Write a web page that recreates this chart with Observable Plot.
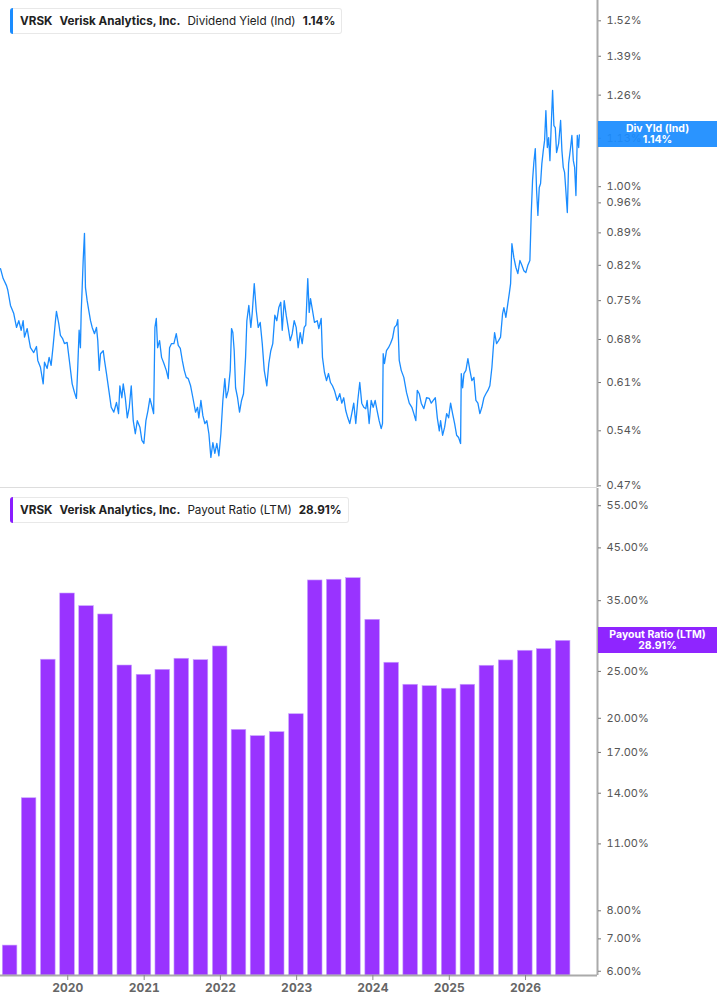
<!DOCTYPE html>
<html><head><meta charset="utf-8">
<script src="https://cdn.jsdelivr.net/npm/d3@7"></script>
<script src="https://cdn.jsdelivr.net/npm/@observablehq/plot@0.6"></script>
<style>
body{margin:0;background:#fff;font-family:Inter,"Noto Sans",sans-serif;}
#wrap{position:relative;width:717px;height:1005px;overflow:hidden}
#wrap svg{display:block;overflow:visible}
#wrap svg:first-of-type{position:relative;z-index:2}
.legend{position:absolute;z-index:3;left:10px;height:24px;border:1px solid #e8e8e8;border-left:none;border-radius:3px;background:#fff;font-size:11.7px;line-height:24px;color:#222;padding:0 6px 0 10px;white-space:nowrap}
.legend::before{content:"";position:absolute;left:0;top:-1px;bottom:-1px;width:3px;border-radius:3px 0 0 3px;background:var(--c)}
.legend span{margin-right:7px}
.legend span:last-child{margin-right:0}
.legend .b{font-weight:700}
.tag{position:absolute;z-index:4;left:598px;width:119px;height:26px;color:#fff;font-weight:700;font-size:10.5px;line-height:11.5px;text-align:center;display:flex;flex-direction:column;justify-content:center}
</style></head>
<body>
<div id="wrap"></div>
<script>
// ---- data ----
const yieldTime = [2019.118,2019.153,2019.197,2019.214,2019.249,2019.292,2019.328,2019.358,2019.389,2019.415,2019.433,2019.468,2019.489,2019.511,2019.554,2019.590,2019.607,2019.642,2019.678,2019.695,2019.730,2019.756,2019.782,2019.809,2019.839,2019.852,2019.882,2019.904,2019.931,2019.957,2019.992,2020.026,2020.058,2020.088,2020.114,2020.131,2020.149,2020.166,2020.176,2020.189,2020.202,2020.219,2020.232,2020.254,2020.275,2020.298,2020.320,2020.350,2020.376,2020.393,2020.412,2020.429,2020.464,2020.481,2020.507,2020.538,2020.569,2020.603,2020.638,2020.665,2020.682,2020.708,2020.726,2020.753,2020.779,2020.805,2020.831,2020.857,2020.884,2020.910,2020.944,2020.970,2020.996,2021.023,2021.049,2021.075,2021.098,2021.124,2021.141,2021.159,2021.176,2021.202,2021.228,2021.259,2021.290,2021.316,2021.333,2021.359,2021.390,2021.421,2021.447,2021.474,2021.500,2021.526,2021.552,2021.578,2021.609,2021.639,2021.674,2021.700,2021.717,2021.744,2021.770,2021.796,2021.822,2021.849,2021.875,2021.901,2021.927,2021.953,2021.980,2022.006,2022.032,2022.058,2022.077,2022.103,2022.129,2022.146,2022.163,2022.181,2022.199,2022.225,2022.251,2022.277,2022.303,2022.330,2022.347,2022.373,2022.399,2022.417,2022.444,2022.470,2022.496,2022.522,2022.549,2022.575,2022.609,2022.635,2022.661,2022.687,2022.714,2022.740,2022.766,2022.792,2022.811,2022.837,2022.863,2022.889,2022.916,2022.942,2022.968,2022.994,2023.020,2023.047,2023.073,2023.099,2023.120,2023.146,2023.165,2023.182,2023.208,2023.234,2023.270,2023.291,2023.322,2023.339,2023.365,2023.392,2023.418,2023.444,2023.470,2023.496,2023.532,2023.566,2023.592,2023.618,2023.645,2023.671,2023.697,2023.723,2023.749,2023.776,2023.802,2023.828,2023.854,2023.881,2023.907,2023.925,2023.951,2023.978,2024.004,2024.030,2024.056,2024.082,2024.109,2024.126,2024.135,2024.152,2024.178,2024.204,2024.231,2024.257,2024.283,2024.309,2024.326,2024.345,2024.371,2024.405,2024.440,2024.476,2024.510,2024.536,2024.562,2024.581,2024.607,2024.633,2024.667,2024.702,2024.738,2024.764,2024.790,2024.817,2024.843,2024.869,2024.886,2024.912,2024.939,2024.965,2024.991,2025.017,2025.043,2025.070,2025.096,2025.122,2025.148,2025.157,2025.175,2025.192,2025.218,2025.244,2025.270,2025.296,2025.323,2025.349,2025.375,2025.401,2025.427,2025.454,2025.480,2025.506,2025.532,2025.559,2025.577,2025.594,2025.620,2025.646,2025.672,2025.699,2025.716,2025.742,2025.768,2025.787,2025.804,2025.821,2025.847,2025.873,2025.899,2025.926,2025.952,2025.978,2026.004,2026.030,2026.057,2026.075,2026.092,2026.109,2026.128,2026.145,2026.162,2026.180,2026.197,2026.214,2026.233,2026.250,2026.267,2026.286,2026.303,2026.320,2026.338,2026.355,2026.372,2026.390,2026.407,2026.434,2026.460,2026.477,2026.495,2026.512,2026.529,2026.548,2026.565,2026.591,2026.608,2026.627,2026.644,2026.661,2026.679,2026.697,2026.706];
const yieldValue = [0.813,0.793,0.779,0.770,0.741,0.726,0.701,0.713,0.696,0.713,0.684,0.699,0.682,0.666,0.658,0.668,0.645,0.634,0.608,0.642,0.632,0.650,0.637,0.670,0.713,0.730,0.708,0.687,0.682,0.673,0.675,0.640,0.608,0.595,0.586,0.634,0.696,0.666,0.728,0.775,0.830,0.889,0.775,0.750,0.732,0.713,0.701,0.690,0.701,0.678,0.629,0.656,0.661,0.645,0.624,0.598,0.573,0.566,0.580,0.564,0.605,0.587,0.608,0.587,0.558,0.573,0.605,0.554,0.536,0.554,0.545,0.527,0.523,0.554,0.568,0.586,
0.576,0.564,0.701,0.717,0.666,0.678,0.650,0.640,0.629,0.616,0.666,0.673,0.673,0.690,0.670,0.665,0.645,0.629,0.618,0.616,0.605,0.587,0.566,0.573,0.558,0.583,0.561,0.550,0.554,0.536,0.505,0.524,0.510,0.523,0.507,0.536,0.583,0.616,0.587,0.598,0.629,0.699,0.692,0.661,0.602,0.587,0.566,0.583,0.593,0.650,0.713,0.741,0.701,0.726,0.783,0.732,0.701,0.710,0.673,0.629,0.605,0.640,0.661,0.673,0.723,0.713,0.737,0.747,0.696,0.750,0.723,0.701,0.678,0.690,0.713,0.701,0.666,0.692,0.673,0.701,
0.705,0.793,0.728,0.754,0.732,0.710,0.713,0.699,0.717,0.650,0.626,0.613,0.624,0.610,0.605,0.598,0.583,0.593,0.579,0.587,0.568,0.558,0.550,0.564,0.579,0.550,0.583,0.610,0.579,0.573,0.571,0.583,0.550,0.583,0.573,0.583,0.568,0.554,0.543,0.550,0.656,0.640,0.661,0.666,0.673,0.682,0.701,0.705,0.715,0.645,0.629,0.618,0.595,0.579,0.573,0.564,0.554,0.598,0.593,0.579,0.571,0.587,0.586,0.579,0.583,0.587,0.558,0.540,0.554,0.534,0.545,0.564,0.558,0.579,0.564,0.550,0.534,0.531,0.523,0.624,0.602,0.624,0.629,0.648,0.629,0.613,0.618,0.583,0.579,0.564,0.573,0.587,0.593,0.598,0.605,0.634,0.666,0.692,0.673,0.678,
0.684,0.726,0.737,0.719,0.745,0.764,0.783,0.866,0.836,0.816,0.803,0.830,0.820,0.809,0.805,0.820,0.830,0.935,1.016,1.063,1.101,0.990,0.930,0.998,1.008,1.060,1.096,1.124,1.212,1.104,1.132,1.068,1.173,1.275,1.167,1.161,1.090,1.115,1.182,1.096,1.050,1.037,0.990,0.937,1.060,1.104,1.138,1.068,1.050,0.978,1.138,1.104,1.14];

const payoutQuarter = ["2019-03-31","2019-06-30","2019-09-30","2019-12-31","2020-03-31","2020-06-30","2020-09-30","2020-12-31","2021-03-31","2021-06-30","2021-09-30","2021-12-31","2022-03-31","2022-06-30","2022-09-30","2022-12-31","2023-03-31","2023-06-30","2023-09-30","2023-12-31","2024-03-31","2024-06-30","2024-09-30","2024-12-31","2025-03-31","2025-06-30","2025-09-30","2025-12-31","2026-03-31","2026-06-30"];
const payoutValue = [6.78,13.67,26.43,36.22,34.10,32.78,25.71,24.60,25.19,26.55,26.37,28.15,18.93,18.37,18.72,20.39,38.54,38.67,38.96,31.96,26.05,23.46,23.30,23.02,23.46,25.68,26.34,27.58,27.79,28.91];

const yieldTicks = [0.47,0.54,0.61,0.68,0.75,0.82,0.89,0.96,1.00,1.13,1.26,1.39,1.52];
const payoutTicks = [6,7,8,11,14,17,20,25,35,45,55];
const timeDomain = [2019.118, 2026.944];
const yieldDomain = [0.468, 1.60];
const payoutDomain = [5.88, 59.7];
const lastYield = 1.14, lastPayout = 28.91;

// ---- helpers ----
function decYear(t){const y=Math.floor(t);const a=Date.UTC(y,0,1),b=Date.UTC(y+1,0,1);return new Date(a+(t-y)*(b-a));}
const xDom = timeDomain.map(decYear);
const yieldData = yieldTime.map((t,i)=>({date:decYear(t), value:yieldValue[i]}));
const payoutData = payoutQuarter.map((q,i)=>({date:new Date(q+"T00:00Z"), value:payoutValue[i]}));

const BLUE="#1a8cff", PURPLE="#9933ff", AXIS="#aaaaaa", TXT="#555555";
const font = "Inter, 'Noto Sans', sans-serif";

const topChart = Plot.plot({
  width:717, height:488, marginLeft:0, marginRight:120, marginTop:0, marginBottom:1,
  style:{fontFamily:font, fontSize:"11px", color:TXT, background:"transparent", overflow:"visible"},
  x:{type:"utc", domain:xDom, axis:null},
  y:{type:"log", domain:yieldDomain, axis:null},
  marks:[
    Plot.ruleY([yieldDomain[0]], {stroke:"#dddddd", strokeWidth:1.2}),
    Plot.line(yieldData, {x:"date", y:"value", stroke:BLUE, strokeWidth:1.3}),
    Plot.axisY({anchor:"right", label:null, ticks:yieldTicks, tickFormat:d=>d.toFixed(2)+"%", tickSize:3, tickPadding:6, stroke:"#777", fill:TXT}),
    Plot.ruleX([xDom[1]], {stroke:AXIS, strokeWidth:2})
  ]
});

const botChart = Plot.plot({
  width:717, height:517, marginLeft:0, marginRight:120, marginTop:0, marginBottom:30,
  style:{fontFamily:font, fontSize:"11px", color:TXT, background:"transparent", overflow:"visible"},
  x:{type:"utc", domain:xDom, axis:null},
  y:{type:"log", domain:payoutDomain, axis:null},
  marks:[
    Plot.rect(payoutData, {
      x1:d=>d3.utcDay.offset(d.date,-45), x2:d=>d3.utcDay.offset(d.date,45),
      y1:()=>payoutDomain[0], y2:"value",
      insetLeft:2.1, insetRight:2.1, fill:PURPLE, stroke:"#c9a3ff", strokeWidth:0.6
    }),
    Plot.ruleY([payoutDomain[0]], {stroke:AXIS, strokeWidth:2}),
    Plot.ruleX([xDom[1]], {stroke:AXIS, strokeWidth:2}),
    Plot.axisY({anchor:"right", label:null, ticks:payoutTicks, tickFormat:d=>d.toFixed(2)+"%", tickSize:3, tickPadding:6, stroke:"#777", fill:TXT}),
    Plot.axisX({label:null, ticks:d3.utcYear.every(1), tickFormat:"%Y", tickSize:5, tickPadding:3, stroke:"#888", fill:"#666", fontWeight:"bold", fontSize:12})
  ]
});

const wrap = document.getElementById("wrap");
wrap.appendChild(topChart);
wrap.appendChild(botChart);

function legend(top, color, label, value){
  const d=document.createElement("div");
  d.className="legend"; d.style.top=top+"px"; d.style.setProperty("--c",color);
  d.innerHTML=`<span class="b">VRSK</span><span class="b">Verisk Analytics, Inc.</span><span>${label}</span><span class="b">${value}</span>`;
  wrap.appendChild(d);
}
legend(8, BLUE, "Dividend Yield (Ind)", lastYield.toFixed(2)+"%");
legend(497, "#8a1cff", "Payout Ratio (LTM)", lastPayout.toFixed(2)+"%");

function tag(y, color, label, value){
  const d=document.createElement("div");
  d.className="tag"; d.style.top=(y-13)+"px"; d.style.background=color;
  d.innerHTML=`<div>${label}</div><div>${value}</div>`;
  wrap.appendChild(d);
}
tag(topChart.scale("y").apply(lastYield), "rgba(26,140,255,0.93)", "Div Yld (Ind)", lastYield.toFixed(2)+"%");
tag(488 + botChart.scale("y").apply(lastPayout), "rgba(138,28,255,0.96)", "Payout Ratio (LTM)", lastPayout.toFixed(2)+"%");
</script>
</body></html>
